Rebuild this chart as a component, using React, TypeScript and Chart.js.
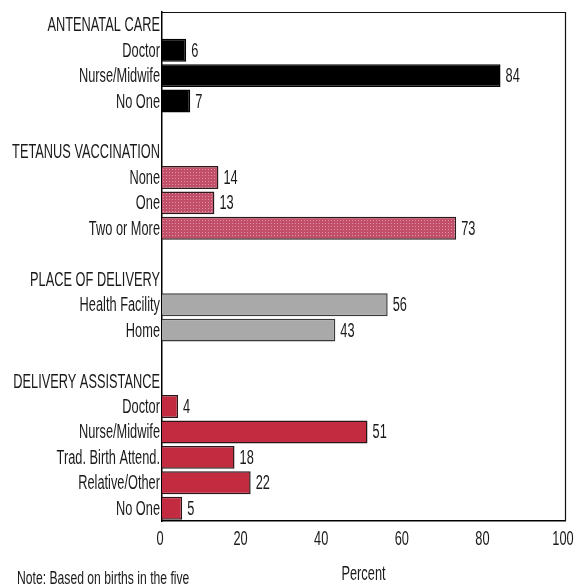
import React, { useEffect, useRef } from "react";
import { Chart, registerables } from "chart.js";

Chart.register(...registerables);

// ---- Data ----
const groupTitles = ["ANTENATAL CARE", "TETANUS VACCINATION", "PLACE OF DELIVERY", "DELIVERY ASSISTANCE"];
const antenatalLabels = ["Doctor", "Nurse/Midwife", "No One"];
const antenatalValues = [6, 84, 7];
const tetanusLabels = ["None", "One", "Two or More"];
const tetanusValues = [14, 13, 73];
const placeLabels = ["Health Facility", "Home"];
const placeValues = [56, 43];
const assistLabels = ["Doctor", "Nurse/Midwife", "Trad. Birth Attend.", "Relative/Other", "No One"];
const assistValues = [4, 51, 18, 22, 5];
const xTickValues = [0, 20, 40, 60, 80, 100];
const xTitle = "Percent";
const noteText = "Note: Based on births in the five";

const FONT = "'Liberation Sans', Arial, sans-serif";
const SX = 0.64; // horizontal condensing of the text
const INK = "#1a1a1a";

function makePattern(base: string, dot: string): CanvasPattern | string {
  const c = document.createElement("canvas");
  c.width = 3;
  c.height = 3;
  const g = c.getContext("2d");
  if (!g) return base;
  g.fillStyle = base;
  g.fillRect(0, 0, 3, 3);
  g.fillStyle = dot;
  g.fillRect(1, 1, 1, 1);
  const p = g.createPattern(c, "repeat");
  return p || base;
}

function drawText(
  ctx: CanvasRenderingContext2D,
  text: string,
  x: number,
  y: number,
  align: CanvasTextAlign,
  size: number
) {
  ctx.save();
  ctx.translate(x, y);
  ctx.scale(SX, 1);
  ctx.font = `${size}px ${FONT}`;
  ctx.fillStyle = INK;
  ctx.textAlign = align;
  ctx.textBaseline = "middle";
  ctx.fillText(text, 0, 0);
  ctx.restore();
}

export default function App() {
  const ref = useRef<HTMLCanvasElement | null>(null);

  useEffect(() => {
    if (!ref.current) return;

    const tetanusFill = makePattern("#c14f69", "#e290a4");
    const groups = [
      { labels: antenatalLabels, values: antenatalValues, fill: "#000000" as any, border: "#000000" },
      { labels: tetanusLabels, values: tetanusValues, fill: tetanusFill, border: "#2a1a1c" },
      { labels: placeLabels, values: placeValues, fill: "#a9a9a9" as any, border: "#3a3a3a" },
      { labels: assistLabels, values: assistValues, fill: "#c22b40" as any, border: "#2a1518" },
    ];

    const labels: string[] = [];
    const data: (number | null)[] = [];
    const fills: any[] = [];
    const borders: string[] = [];
    groups.forEach((g, gi) => {
      labels.push(groupTitles[gi]);
      data.push(null);
      fills.push("transparent");
      borders.push("transparent");
      g.labels.forEach((l, i) => {
        labels.push(l);
        data.push(g.values[i]);
        fills.push(g.fill);
        borders.push(g.border);
      });
      if (gi < groups.length - 1) {
        labels.push("");
        data.push(null);
        fills.push("transparent");
        borders.push("transparent");
      }
    });

    const extras = {
      id: "extras",
      afterDatasetsDraw(chart: any) {
        const { ctx, chartArea } = chart;
        const meta = chart.getDatasetMeta(0);
        const yScale = chart.scales.y;
        const xScale = chart.scales.x;
        ctx.save();
        // value labels
        meta.data.forEach((el: any, i: number) => {
          const v = data[i];
          if (v == null) return;
          drawText(ctx, String(v), el.x + 5, el.y + 1, "left", 20);
        });
        // category labels (y axis)
        chart.data.labels.forEach((l: string, i: number) => {
          if (!l) return;
          const y = yScale.getPixelForValue(i);
          drawText(ctx, l, chartArea.left - 2, y + 1, "right", 20);
        });
        // x tick labels
        xTickValues.forEach((v) => {
          const x = xScale.getPixelForValue(v);
          drawText(ctx, String(v), x - 2, 539, "center", 20);
        });
        // axis title
        drawText(ctx, xTitle, (chartArea.left + chartArea.right) / 2, 574, "center", 20);
        // note
        drawText(ctx, noteText, 17, 579, "left", 19);
        // frame (top and right)
        ctx.strokeStyle = "#111";
        ctx.lineWidth = 1.2;
        ctx.beginPath();
        ctx.moveTo(chartArea.left, chartArea.top + 0.5);
        ctx.lineTo(chartArea.right + 0.5, chartArea.top + 0.5);
        ctx.lineTo(chartArea.right + 0.5, chartArea.bottom);
        ctx.stroke();
        ctx.restore();
      },
    };

    const chart = new Chart(ref.current, {
      type: "bar",
      data: {
        labels,
        datasets: [
          {
            data,
            backgroundColor: fills,
            borderColor: borders,
            borderWidth: 1.5,
            barPercentage: 0.9,
            categoryPercentage: 1,
          },
        ],
      },
      options: {
        indexAxis: "y",
        responsive: false,
        animation: false,
        layout: { padding: { top: 12, right: 11, bottom: 0, left: 0 } },
        plugins: { legend: { display: false }, tooltip: { enabled: false } },
        scales: {
          y: {
            grid: { display: false, drawTicks: false },
            border: { display: true, color: "#000", width: 1.5 },
            ticks: { display: false, autoSkip: false },
            afterFit: (s: any) => {
              s.width = 162;
            },
          },
          x: {
            min: 0,
            max: 100,
            grid: { display: false, drawTicks: false },
            border: { display: true, color: "#000", width: 1.5 },
            afterBuildTicks: (s: any) => {
              s.ticks = xTickValues.map((v) => ({ value: v }));
            },
            ticks: { display: false },
            afterFit: (s: any) => {
              s.height = 65;
            },
          },
        },
      },
      plugins: [extras],
    });

    return () => chart.destroy();
  }, []);

  return (
    <div style={{ position: "absolute", left: 0, top: 0, width: 576, height: 586, background: "#fff" }}>
      <canvas ref={ref} width={576} height={586} style={{ display: "block" }} />
    </div>
  );
}
